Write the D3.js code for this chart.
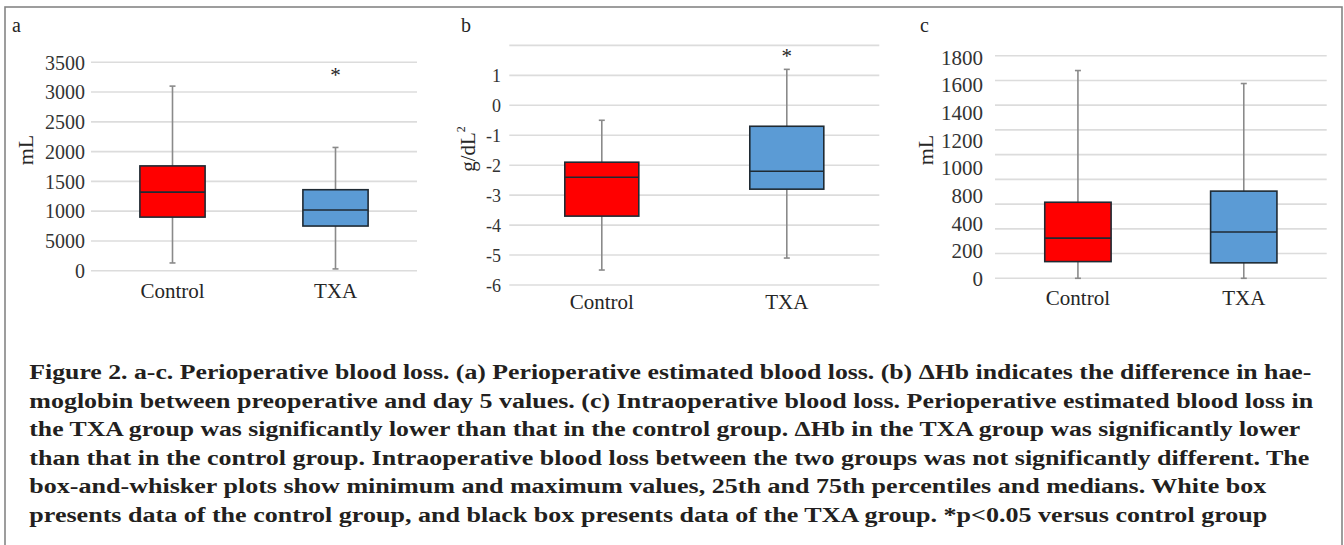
<!DOCTYPE html>
<html>
<head>
<meta charset="utf-8">
<script src="https://cdn.jsdelivr.net/npm/d3@7"></script>
<style>
  html, body { margin: 0; padding: 0; background: #fff; }
  svg { display: block; }
  svg text { font-family: "Liberation Serif", "Times New Roman", Times, serif !important; }
</style>
</head>
<body>
<svg id="chart" width="1344" height="545"></svg>
<script>
// ---------- DATA ----------
const categories = ["Control", "TXA"];
const groupColors = ["#FF0000", "#5B9BD5"];

// Panel a: perioperative estimated blood loss (mL)
const aMin = [130, 30];
const aQ1 = [900, 750];
const aMedian = [1320, 1020];
const aQ3 = [1760, 1360];
const aMax = [3100, 2070];
const aStar = [null, 3350];
const aTicks = [0, 500, 1000, 1500, 2000, 2500, 3000, 3500];
const aTickLabels = ["0", "5000", "1000", "1500", "2000", "2500", "3000", "3500"];

// Panel b: ΔHb (g/dL)
const bMin = [-5.5, -5.1];
const bQ1 = [-3.7, -2.8];
const bMedian = [-2.4, -2.2];
const bQ3 = [-1.9, -0.7];
const bMax = [-0.5, 1.2];
const bStar = [null, 1.75];
const bGrid = [-6, -5, -4, -3, -2, -1, 0, 1, 2];
const bTicks = [-6, -5, -4, -3, -2, -1, 0, 1];
const bTickLabels = ["-6", "-5", "-4", "-3", "-2", "-1", "0", "1"];

// Panel c: intraoperative blood loss (mL)
const cMin = [0, 0];
const cQ1 = [135, 125];
const cMedian = [325, 375];
const cQ3 = [615, 705];
const cMax = [1680, 1575];
const cStar = [null, null];
const cGrid = [0, 200, 400, 600, 800, 1000, 1200, 1400, 1600, 1800];
const cTickLabels = ["0", "200", "400", "800", "1000", "1200", "1400", "1600", "1800"];

const captionLines = [
  "Figure 2. a-c. Perioperative blood loss. (a) Perioperative estimated blood loss. (b) ΔHb indicates the difference in hae-",
  "moglobin between preoperative and day 5 values. (c) Intraoperative blood loss. Perioperative estimated blood loss in",
  "the TXA group was significantly lower than that in the control group. ΔHb in the TXA group was significantly lower",
  "than that in the control group. Intraoperative blood loss between the two groups was not significantly different. The",
  "box-and-whisker plots show minimum and maximum values, 25th and 75th percentiles and medians. White box",
  "presents data of the control group, and black box presents data of the TXA group. *p<0.05 versus control group"
];

// ---------- LAYOUT ----------
const svg = d3.select("#chart");
svg.append("rect").attr("x", 0).attr("y", 0).attr("width", 1344).attr("height", 545).attr("fill", "#fff");
svg.append("rect").attr("x", 5).attr("y", 7).attr("width", 1337).attr("height", 600)
  .attr("fill", "none").attr("stroke", "#858585").attr("stroke-width", 1.6);

function drawPanel(p) {
  const g = svg.append("g");
  const x = d3.scaleBand().domain(categories).range([p.x0, p.x1]).paddingInner(0).paddingOuter(0);
  const y = d3.scaleLinear().domain(p.domain).range([p.yBottom, p.yTop]);

  // gridlines
  g.append("g").selectAll("line").data(p.grid).join("line")
    .attr("x1", p.x0).attr("x2", p.x1)
    .attr("y1", d => y(d)).attr("y2", d => y(d))
    .attr("stroke", "#dcdcdc").attr("stroke-width", 1.6);

  // y tick labels
  let axis;
  if (p.labelScale === "point") {
    const ys = d3.scalePoint().domain(p.tickLabels).range([p.yBottom, p.yTop + 1.5]);
    axis = d3.axisLeft(ys).tickSize(0).tickPadding(0);
  } else {
    axis = d3.axisLeft(y).tickValues(p.ticks).tickSize(0).tickPadding(0)
      .tickFormat((d, i) => p.tickLabels[i]);
  }
  const ax = g.append("g").attr("transform", `translate(${p.labelRight},0)`).call(axis);
  ax.select(".domain").remove();
  ax.selectAll("text")
    .attr("font-size", p.tickSize).attr("fill", "#333").attr("dy", "0.34em");

  // x category labels
  const xa = g.append("g").attr("transform", `translate(0,${p.xLabelY})`)
    .call(d3.axisBottom(x).tickSize(0).tickPadding(0));
  xa.select(".domain").remove();
  xa.selectAll("text")
    .attr("font-size", 21).attr("fill", "#262626").attr("dy", 0);

  const bw = x.bandwidth() * 0.4;
  const idx = d3.range(categories.length);
  const cx = i => x(categories[i]) + x.bandwidth() / 2;

  // whiskers
  g.append("g").selectAll("line").data(idx).join("line")
    .attr("x1", cx).attr("x2", cx)
    .attr("y1", i => y(p.min[i])).attr("y2", i => y(p.max[i]))
    .attr("stroke", "#8a8a8a").attr("stroke-width", 1.6);
  ["min", "max"].forEach(k => {
    g.append("g").selectAll("line").data(idx).join("line")
      .attr("x1", i => cx(i) - 3).attr("x2", i => cx(i) + 3)
      .attr("y1", i => y(p[k][i])).attr("y2", i => y(p[k][i]))
      .attr("stroke", "#8a8a8a").attr("stroke-width", 1.6);
  });

  // boxes
  g.append("g").selectAll("rect").data(idx).join("rect")
    .attr("x", i => cx(i) - bw / 2).attr("width", bw)
    .attr("y", i => y(p.q3[i])).attr("height", i => y(p.q1[i]) - y(p.q3[i]))
    .attr("fill", i => groupColors[i]).attr("stroke", "#1f2a33").attr("stroke-width", 1.6);

  // medians
  g.append("g").selectAll("line").data(idx).join("line")
    .attr("x1", i => cx(i) - bw / 2).attr("x2", i => cx(i) + bw / 2)
    .attr("y1", i => y(p.median[i])).attr("y2", i => y(p.median[i]))
    .attr("stroke", "#1f2a33").attr("stroke-width", 1.6);

  // significance stars
  g.append("g").selectAll("text").data(idx.filter(i => p.star[i] != null)).join("text")
    .attr("x", cx).attr("y", i => y(p.star[i])).attr("dy", "0.5em")
    .attr("text-anchor", "middle").attr("font-size", 21).attr("fill", "#262626").text("*");

  // y-axis title
  const t = g.append("text")
    .attr("transform", `translate(${p.titleX},${p.titleY}) rotate(-90)`)
    .attr("text-anchor", "middle").attr("font-size", p.titleSize).attr("fill", "#262626");
  t.append("tspan").text(p.title);
  if (p.titleSup) {
    t.append("tspan").attr("font-size", 12).attr("dy", -10).text(p.titleSup);
  }

  // panel letter
  g.append("text").attr("x", p.letterX).attr("y", 32).attr("font-size", 20).attr("fill", "#262626").text(p.letter);
}

drawPanel({
  letter: "a", letterX: 12,
  x0: 91, x1: 417, yBottom: 270.7, yTop: 62.3, domain: [0, 3500],
  grid: aTicks, ticks: aTicks, tickLabels: aTickLabels, tickSize: 20, labelRight: 85,
  min: aMin, q1: aQ1, median: aMedian, q3: aQ3, max: aMax, star: aStar,
  xLabelY: 298, title: "mL", titleX: 33, titleY: 150, titleSize: 22
});

drawPanel({
  letter: "b", letterX: 461,
  x0: 509.3, x1: 879.3, yBottom: 285, yTop: 45.4, domain: [-6, 2],
  grid: bGrid, ticks: bTicks, tickLabels: bTickLabels, tickSize: 18, labelRight: 501,
  min: bMin, q1: bQ1, median: bMedian, q3: bQ3, max: bMax, star: bStar,
  xLabelY: 309, title: "g/dL", titleSup: "2", titleX: 475, titleY: 149, titleSize: 21
});

drawPanel({
  letter: "c", letterX: 920,
  x0: 995, x1: 1326.7, yBottom: 278.3, yTop: 55.7, domain: [0, 1800],
  grid: cGrid, labelScale: "point", tickLabels: cTickLabels, tickSize: 21, labelRight: 983,
  min: cMin, q1: cQ1, median: cMedian, q3: cQ3, max: cMax, star: cStar,
  xLabelY: 305, title: "mL", titleX: 933, titleY: 150, titleSize: 22
});

// caption
const captionWidths = [1282, 1284, 1271, 1280, 1237, 1238];
svg.append("g").selectAll("text").data(captionLines).join("text")
  .attr("x", 29.3).attr("y", (d, i) => 379 + i * 28.5)
  .attr("font-size", 20).attr("font-weight", "bold").attr("fill", "#231f20")
  .attr("textLength", (d, i) => captionWidths[i]).attr("lengthAdjust", "spacingAndGlyphs")
  .text(d => d);
</script>
</body>
</html>
